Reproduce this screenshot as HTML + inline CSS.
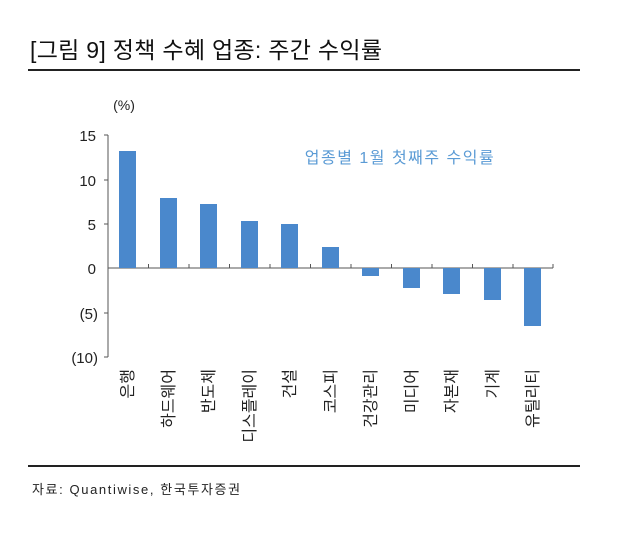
<!DOCTYPE html>
<html><head><meta charset="utf-8"><style>
body{margin:0;width:626px;height:545px;background:#fff;overflow:hidden;font-family:"Liberation Sans","Noto Sans CJK KR",sans-serif;}
</style></head><body>
<div style="position:absolute;left:30px;top:31px;font-size:23px;color:#111;letter-spacing:0.3px">[그림 9] 정책 수혜 업종: 주간 수익률</div>
<div style="position:absolute;left:28px;top:69px;width:552px;height:2px;background:#222"></div>
<div style="position:absolute;left:28px;top:465px;width:552px;height:2px;background:#222"></div>
<div style="position:absolute;left:32px;top:479px;font-size:13px;color:#222;letter-spacing:1.6px">자료: Quantiwise, 한국투자증권</div>
<svg style="position:absolute;left:0;top:0" width="626" height="545">
<g font-family="Liberation Sans, sans-serif" font-size="15" fill="#222" text-anchor="end">
<text x="124" y="110" text-anchor="middle" font-size="14">(%)</text>
<text x="96" y="141">15</text><text x="96" y="186">10</text><text x="96" y="230">5</text>
<text x="96" y="274">0</text><text x="98" y="319">(5)</text><text x="98" y="363">(10)</text>
</g>
<text x="400" y="163" font-family="Liberation Sans, Noto Sans CJK KR, sans-serif" font-size="16" letter-spacing="1.5" fill="#5b9bd5" text-anchor="middle">업종별 1월 첫째주 수익률</text>
<g stroke="#555" stroke-width="1">
<line x1="108" y1="135" x2="108" y2="357"/>
<line x1="104" y1="135" x2="108" y2="135"/><line x1="104" y1="180" x2="108" y2="180"/><line x1="104" y1="224" x2="108" y2="224"/><line x1="104" y1="313" x2="108" y2="313"/><line x1="104" y1="357" x2="108" y2="357"/>
<line x1="108" y1="268" x2="553" y2="268"/>
<line x1="148.5" y1="264" x2="148.5" y2="268"/><line x1="189" y1="264" x2="189" y2="268"/><line x1="229.5" y1="264" x2="229.5" y2="268"/><line x1="270" y1="264" x2="270" y2="268"/><line x1="310.5" y1="264" x2="310.5" y2="268"/><line x1="351" y1="264" x2="351" y2="268"/><line x1="391.5" y1="264" x2="391.5" y2="268"/><line x1="432" y1="264" x2="432" y2="268"/><line x1="472.5" y1="264" x2="472.5" y2="268"/><line x1="513" y1="264" x2="513" y2="268"/><line x1="553" y1="264" x2="553" y2="268"/>
</g>
<g fill="#4a88cc">
<rect x="119" y="151" width="17" height="117"/>
<rect x="160" y="198" width="17" height="70"/>
<rect x="200" y="204" width="17" height="64"/>
<rect x="241" y="221" width="17" height="47"/>
<rect x="281" y="224" width="17" height="44"/>
<rect x="322" y="247" width="17" height="21"/>
<rect x="362" y="268" width="17" height="8"/>
<rect x="403" y="268" width="17" height="20"/>
<rect x="443" y="268" width="17" height="26"/>
<rect x="484" y="268" width="17" height="32"/>
<rect x="524" y="268" width="17" height="58"/>
</g>
<g font-family="Liberation Sans, Noto Sans CJK KR, sans-serif" font-size="16" fill="#222" text-anchor="end">
<text transform="translate(133,369) rotate(-90)">은행</text>
<text transform="translate(174,369) rotate(-90)">하드웨어</text>
<text transform="translate(214,369) rotate(-90)">반도체</text>
<text transform="translate(255,369) rotate(-90)">디스플레이</text>
<text transform="translate(295,369) rotate(-90)">건설</text>
<text transform="translate(336,369) rotate(-90)">코스피</text>
<text transform="translate(376,369) rotate(-90)">건강관리</text>
<text transform="translate(417,369) rotate(-90)">미디어</text>
<text transform="translate(457,369) rotate(-90)">자본재</text>
<text transform="translate(498,369) rotate(-90)">기계</text>
<text transform="translate(538,369) rotate(-90)">유틸리티</text>
</g>
</svg>
</body></html>
